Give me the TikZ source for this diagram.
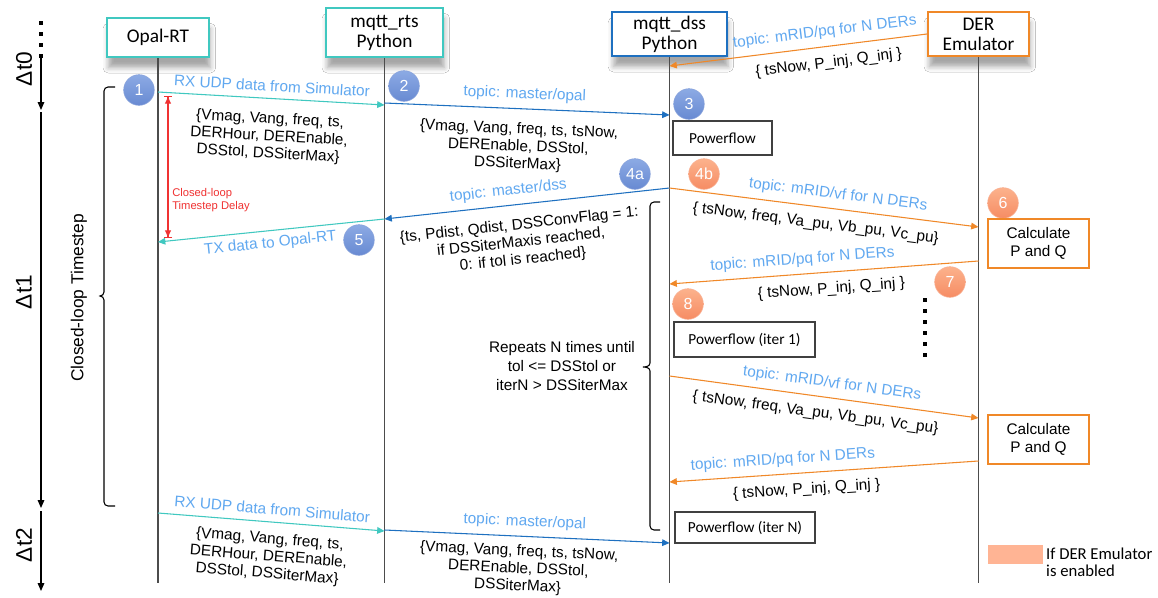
\documentclass[tikz,border=0pt]{standalone}
\usepackage{fontspec}
\setmainfont{Liberation Sans}
\newfontfamily\calibri{Carlito}
\usetikzlibrary{arrows.meta, shadows, shadows.blur, positioning}

\definecolor{cTeal}{RGB}{64,200,192}
\definecolor{cBlue}{RGB}{30,112,192}
\definecolor{cOrange}{RGB}{240,136,40}
\definecolor{cTopic}{RGB}{96,168,240}
\definecolor{cRed}{RGB}{240,50,50}
\definecolor{cNumBlueT}{RGB}{140,170,228}
\definecolor{cNumBlueB}{RGB}{104,138,210}
\definecolor{cNumOrT}{RGB}{252,178,140}
\definecolor{cNumOrB}{RGB}{246,140,100}
\definecolor{cLegend}{RGB}{255,180,148}

\newcommand{\lblfont}{\fontsize{11.5}{13}\selectfont}

\tikzset{
  hdr/.style={draw, line width=1.5pt, fill=white, align=center, inner sep=2pt,
    font=\calibri\fontsize{14.5}{15}\selectfont,
    blur shadow={shadow xshift=1pt, shadow yshift=-8pt, shadow blur radius=4pt, shadow opacity=35}},
  lifeline/.style={draw=black!70, line width=0.9pt},
  msg/.style={line width=0.8pt, -{Triangle[length=5.5pt,width=5pt]}},
  msgteal/.style={msg, draw=cTeal, color=cTeal},
  msgblue/.style={msg, draw=cBlue, color=cBlue},
  msgorange/.style={msg, draw=cOrange, color=cOrange},
  topic/.style={sloped, above=5pt, inner sep=0pt, text=cTopic, font=\lblfont},
  payload/.style={sloped, below=7pt, inner sep=0pt, align=center, text=black, font=\lblfont},
  payload3/.style={payload, below=10pt},
  numblue/.style={circle, minimum size=23pt, inner sep=0pt, top color=cNumBlueT, bottom color=cNumBlueB,
    draw=cNumBlueB!80!white, text=white, font=\fontsize{12}{12}\selectfont},
  numorange/.style={numblue, top color=cNumOrT, bottom color=cNumOrB, draw=cNumOrB!70!white},
  procbox/.style={draw=black!75, line width=0.8pt, font=\calibri\fontsize{11.5}{14}\selectfont},
  calcbox/.style={draw=cOrange, line width=1.3pt, align=center, minimum width=75.75pt,
    minimum height=36.75pt, font=\lblfont},
  timearrow/.style={line width=0.8pt, -{Triangle[length=6pt,width=5pt]}},
  dotsq/.style={line width=3pt, dash pattern=on 3pt off 5.25pt},
  dtlbl/.style={rotate=90, font=\fontsize{17}{17}\selectfont},
}

\begin{document}
\begin{tikzpicture}[x=0.75pt, y=-0.75pt]
  \useasboundingbox[fill=white] (0,0) rectangle (1158,597);

  % participants
  \node[hdr, draw=cTeal, minimum width=76.5pt, minimum height=29.25pt] (opal) at (158,37.5) {Opal-RT};
  \node[hdr, draw=cTeal, minimum width=87.75pt, minimum height=36.75pt] (rts) at (384.5,32.5) {mqtt\_rts\\Python};
  \node[hdr, draw=cBlue, minimum width=86pt, minimum height=33pt] (dss) at (669.5,34) {mqtt\_dss\\Python};
  \node[hdr, draw=cOrange, minimum width=75.75pt, minimum height=33pt] (der) at (978.5,34) {DER\\Emulator};

  \draw[lifeline] (opal.south) -- (opal |- 0,583);
  \draw[lifeline] (rts.south) -- (rts |- 0,583);
  \draw[lifeline] (dss.south) -- (dss |- 0,583);
  \draw[lifeline] (der.south) -- (der |- 0,583);

  % time axis
  \coordinate (ax0) at (41,21);
  \coordinate (ax1) at (41,58);
  \coordinate (ax2) at (41,110);
  \coordinate (ax3) at (41,112);
  \coordinate (ax4) at (41,508);
  \coordinate (ax5) at (41,511);
  \coordinate (ax6) at (41,591);
  \draw[dotsq] (ax0) -- (ax1);
  \draw[timearrow] (ax1) -- (ax2);
  \draw[timearrow] (ax3) -- (ax4);
  \draw[timearrow] (ax5) -- (ax6);
  \node[dtlbl] (dt0) at (24,69) {Δt0};
  \node[dtlbl] (dt1) at (24,292) {Δt1};
  \node[dtlbl] (dt2) at (24,545) {Δt2};

  % closed-loop timestep bracket
  \draw[line width=0.8pt] (115,87) -- (108,87) to[out=180,in=90] (104,91) -- (104,292)
    to[out=270,in=0] (100,296) to[out=0,in=90] (104,300) -- (104,502) to[out=270,in=180] (108,506) -- (115,506);
  \node[rotate=90, font=\fontsize{13}{13}\selectfont] (cltl) at (79,298) {Closed-loop Timestep};

  % repeat bracket
  \draw[line width=0.8pt] (660,202) -- (654,202) to[out=180,in=90] (650,206) -- (650,363)
    to[out=270,in=0] (643,367) to[out=0,in=90] (650,371) -- (650,526) to[out=270,in=180] (654,530) -- (660,530);
  \node[align=center, font=\fontsize{11.5}{14}\selectfont] (rep) at (562,366)
    {Repeats N times until\\tol <= DSStol or\\iterN > DSSiterMax};

  % step numbers
  \node[numblue] (n1) at (139,90) {1};
  \node[numblue] (n2) at (404,86) {2};
  \node[numblue] (n3) at (689,104) {3};
  \node[numblue] (n4a) at (635,174) {4a};
  \node[numorange] (n4b) at (704,174) {4b};
  \node[numblue] (n5) at (359,240) {5};
  \node[numorange] (n6) at (1003,203) {6};
  \node[numorange] (n7) at (950,282) {7};
  \node[numorange] (n8) at (688,304) {8};

  % closed-loop delay
  \coordinate (dly1) at (168,96);
  \coordinate (dly2) at (168,238);
  \draw[cRed, line width=0.8pt, {Bar[width=6pt]Triangle[length=5pt,width=4.5pt]}-{Triangle[length=5pt,width=4.5pt]Bar[width=6pt]}] (dly1) -- (dly2);
  \node[anchor=north west, align=left, text=cRed, inner sep=0pt, font=\fontsize{8.4}{10}\selectfont] (dlyl) at (172,188)
    {Closed-loop\\Timestep Delay};

  % step 1 and 2
  \draw[msgteal] (opal |- 0,92) -- node[topic, pos=.5] (t1) {RX UDP data from Simulator}
    node[payload3, pos=.5] (p1) {\{Vmag, Vang, freq, ts,\\DERHour, DEREnable,\\DSStol, DSSiterMax\}} (rts |- 0,105);
  \draw[msgblue] (rts |- 0,103) -- node[topic, pos=.49] (t2) {topic: master/opal}
    node[payload3, pos=.475] (p2) {\{Vmag, Vang, freq, ts, tsNow,\\DEREnable, DSStol,\\DSSiterMax\}} (dss |- 0,115);
  \draw[msgorange] (der.west) -- node[topic, pos=.39] (t0) {topic: mRID/pq for N DERs}
    node[payload, pos=.39] (p0) {\{ tsNow, P\_inj, Q\_inj \}} (dss |- 0,66);

  \node[procbox, minimum width=74.25pt, minimum height=25.5pt] (pf0) at (722.5,138) {Powerflow};

  % step 4 and 5
  \draw[msgblue] (dss |- 0,188) -- node[topic, pos=.56] (t4a) {topic: master/dss}
    node[payload3, pos=.535] (p4a) {\{ts, Pdist, Qdist, DSSConvFlag = 1:\\if DSSiterMaxis reached,\\0: if tol is reached\}} (rts |- 0,219);
  \draw[msgteal] (rts |- 0,219) -- node[payload, below=4pt, text=cTopic, pos=.51] (t5) {TX data to Opal-RT} (opal |- 0,242);
  \draw[msgorange] (dss |- 0,188) -- node[topic, pos=.54] (t4b) {topic: mRID/vf for N DERs}
    node[payload, pos=.48] (p4b) {\{ tsNow, freq, Va\_pu, Vb\_pu, Vc\_pu\}} (der |- 0,227);

  \node[calcbox] (calc1) at (1038.5,243.5) {Calculate\\P and Q};

  \draw[msgorange] (der |- 0,261) -- node[topic, pos=.566] (t7) {topic: mRID/pq for N DERs}
    node[payload, pos=.48] (p7) {\{ tsNow, P\_inj, Q\_inj \}} (dss |- 0,284);

  \node[procbox, minimum width=105.75pt, minimum height=26.25pt] (pf1) at (744.5,339.5) {Powerflow (iter 1)};
  \coordinate (vd1) at (925,298);
  \coordinate (vd2) at (925,360);
  \draw[dotsq] (vd1) -- (vd2);

  % last iteration
  \draw[msgorange] (dss |- 0,376) -- node[topic, pos=.52] (t9) {topic: mRID/vf for N DERs}
    node[payload, pos=.48] (p9) {\{ tsNow, freq, Va\_pu, Vb\_pu, Vc\_pu\}} (der |- 0,418);

  \node[calcbox] (calc2) at (1038.5,439.5) {Calculate\\P and Q};

  \draw[msgorange] (der |- 0,461) -- node[topic, pos=.63] (t10) {topic: mRID/pq for N DERs}
    node[payload, pos=.56] (p10) {\{ tsNow, P\_inj, Q\_inj \}} (dss |- 0,482);

  \node[procbox, minimum width=105pt, minimum height=23.25pt] (pfN) at (745,527.5) {Powerflow (iter N)};

  % next timestep
  \draw[msgteal] (opal |- 0,513) -- node[topic, pos=.5] (t11) {RX UDP data from Simulator}
    node[payload, below=7.5pt, pos=.5] (p11) {\{Vmag, Vang, freq, ts,\\DERHour, DEREnable,\\DSStol, DSSiterMax\}} (rts |- 0,531);
  \draw[msgblue] (rts |- 0,530) -- node[topic, pos=.49] (t12) {topic: master/opal}
    node[payload, below=6pt, pos=.475] (p12) {\{Vmag, Vang, freq, ts, tsNow,\\DEREnable, DSStol,\\DSSiterMax\}} (dss |- 0,543);

  % legend
  \node[fill=cLegend, minimum width=41.25pt, minimum height=14.25pt, inner sep=0pt] (leg) at (1015.5,554.5) {};
  \node[right=1pt of leg.east, anchor=west, yshift=-6pt, align=left, inner sep=1pt,
    font=\calibri\fontsize{12.5}{12.75}\selectfont] (legl) {If DER Emulator\\is enabled};
\end{tikzpicture}
\end{document}
